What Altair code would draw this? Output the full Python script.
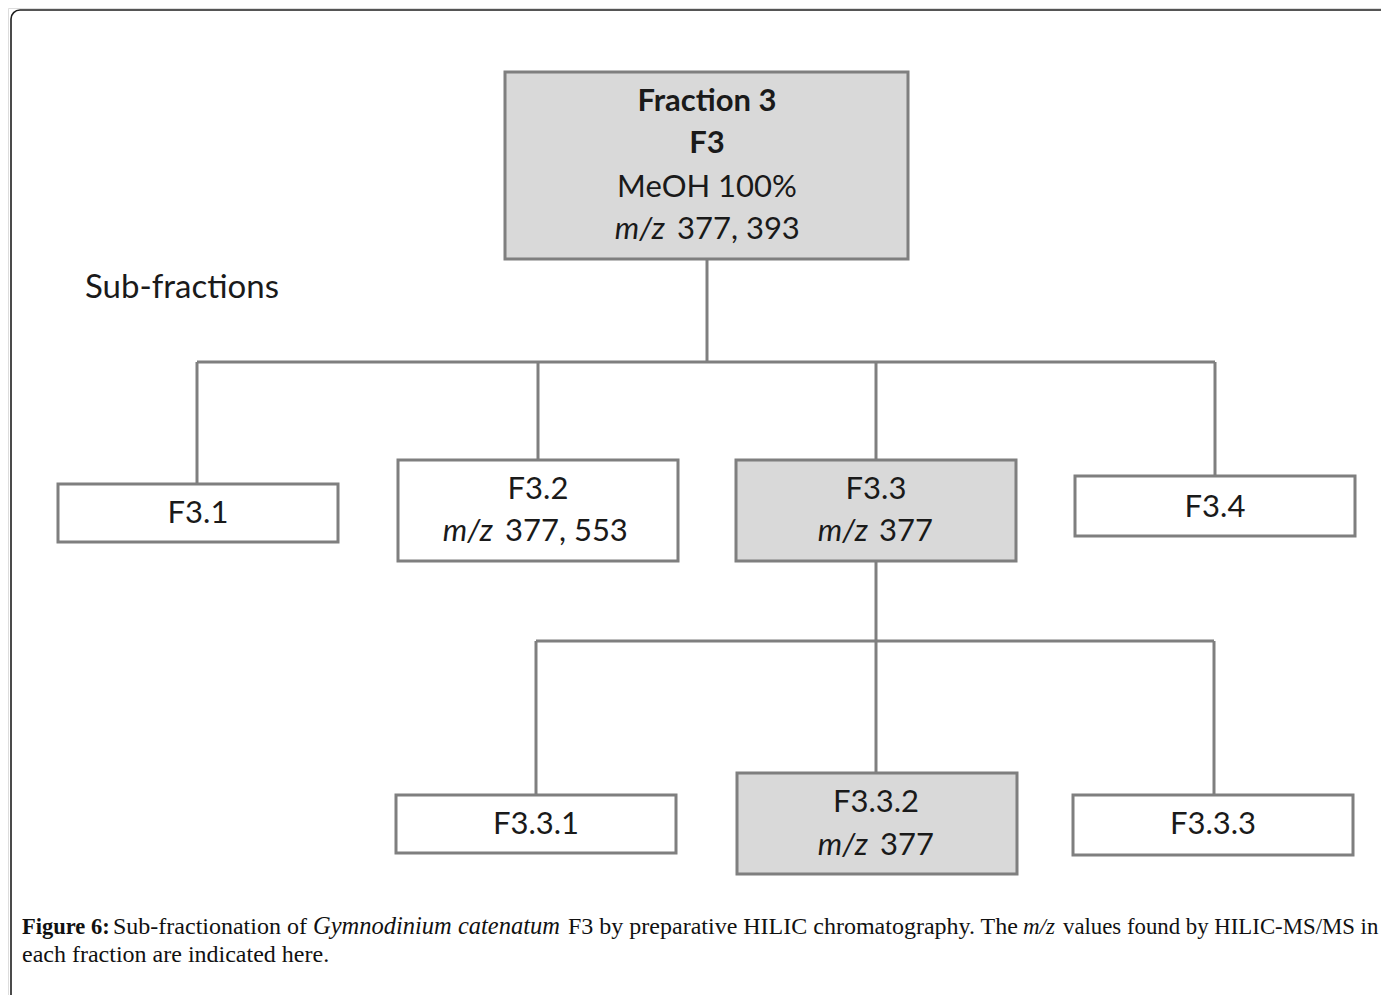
import altair as alt
import pandas as pd

# ---------------- data ----------------
box_names = ["F3", "F3.1", "F3.2", "F3.3", "F3.4", "F3.3.1", "F3.3.2", "F3.3.3"]
box_left = [505, 58, 398, 736, 1075, 396, 737, 1073]
box_right = [908, 338, 678, 1016, 1355, 676, 1017, 1353]
box_top = [72, 484, 460, 460, 476, 795, 773, 795]
box_bottom = [259, 542, 561, 561, 536, 853, 874, 855]
box_shaded = ["yes", "no", "no", "yes", "no", "no", "yes", "no"]

link_x1 = [707, 197, 197, 538, 876, 1215, 876, 536, 536, 876, 1214]
link_x2 = [707, 1215, 197, 538, 876, 1215, 876, 1214, 536, 876, 1214]
link_y1 = [259, 362, 362, 362, 362, 362, 561, 641, 641, 641, 641]
link_y2 = [362, 362, 484, 460, 460, 476, 641, 641, 795, 773, 795]

bold_labels = ["Fraction 3", "F3"]
bold_x = [707, 707]
bold_y = [102, 144]

plain_labels = ["MeOH 100%", "F3.1", "F3.2", "F3.3", "F3.4", "F3.3.1", "F3.3.2", "F3.3.3"]
plain_x = [707, 198, 538, 876, 1215, 536, 876, 1213]
plain_y = [188, 514, 490, 490, 508, 825, 803, 825]

mz_end_x = [665, 493, 868, 868]
mz_y = [230, 532, 532, 846]
mz_values = ["377, 393", "377, 553", "377", "377"]
mz_value_x = [677, 505, 879, 880]

side_label = "Sub-fractions"
side_x = 85
side_y = 288

cap_texts = ["Figure 6:", "Sub-fractionation of", "Gymnodinium catenatum",
             "F3 by preparative HILIC chromatography. The", "m/z",
             "values found by HILIC-MS/MS in", "each fraction are indicated here."]
cap_x = [22, 113, 313, 568, 1023, 1063, 22]
cap_y = [927, 927, 927, 927, 927, 927, 955]
cap_style = ["bold", "normal", "italic", "normal", "italic2", "normal2", "normal"]

# ---------------- scales ----------------
W, H = 1373, 987
xs = alt.Scale(domain=[8, 8 + W], nice=False, zero=False)
ys = alt.Scale(domain=[8, 8 + H], nice=False, zero=False, reverse=True)


def X(f):
    return alt.X(f, type="quantitative", scale=xs, axis=None)


def Y(f):
    return alt.Y(f, type="quantitative", scale=ys, axis=None)


boxes = pd.DataFrame({"name": box_names, "x0": box_left, "x1": box_right,
                      "y0": box_top, "y1": box_bottom, "shaded": box_shaded})
links = pd.DataFrame({"x1": link_x1, "x2": link_x2, "y1": link_y1, "y2": link_y2})
bold_df = pd.DataFrame({"t": bold_labels, "x": bold_x, "y": bold_y})
plain_df = pd.DataFrame({"t": plain_labels, "x": plain_x, "y": plain_y})
mz_df = pd.DataFrame({"t": ["m/z"] * len(mz_end_x), "x": mz_end_x, "y": mz_y})
mzv_df = pd.DataFrame({"t": mz_values, "x": mz_value_x, "y": mz_y})
side_df = pd.DataFrame({"t": [side_label], "x": [side_x], "y": [side_y]})
cap_df = pd.DataFrame({"t": cap_texts, "x": cap_x, "y": cap_y, "s": cap_style})
frame_df = pd.DataFrame({"x0": [11], "x1": [1430], "y0": [10], "y1": [1040]})

BOX_FONT = "Lato"
FS = 31
INK = "#1a1a1a"

frame = alt.Chart(frame_df).mark_rect(
    fill="white", stroke="#1e1e1e", strokeWidth=1.6, cornerRadius=9
).encode(x=X("x0"), x2=alt.X2("x1"), y=Y("y0"), y2=alt.Y2("y1"))

link_layer = alt.Chart(links).mark_rule(color="#7f7f7f", strokeWidth=3).encode(
    x=X("x1"), x2=alt.X2("x2"), y=Y("y1"), y2=alt.Y2("y2"))

box_layer = alt.Chart(boxes).mark_rect(stroke="#7f7f7f", strokeWidth=3).encode(
    x=X("x0"), x2=alt.X2("x1"), y=Y("y0"), y2=alt.Y2("y1"),
    fill=alt.Fill("shaded:N", scale=alt.Scale(domain=["yes", "no"],
                                              range=["#d9d9d9", "#ffffff"]), legend=None))

bold_layer = alt.Chart(bold_df).mark_text(
    font=BOX_FONT, fontSize=FS, fontWeight="bold", color=INK, align="center", baseline="middle"
).encode(x=X("x"), y=Y("y"), text="t:N")

plain_layer = alt.Chart(plain_df).mark_text(
    font=BOX_FONT, fontSize=FS, color=INK, align="center", baseline="middle"
).encode(x=X("x"), y=Y("y"), text="t:N")

mz_layer = alt.Chart(mz_df).mark_text(
    font=BOX_FONT, fontSize=FS, fontStyle="italic", color=INK, align="right", baseline="middle"
).encode(x=X("x"), y=Y("y"), text="t:N")

mzv_layer = alt.Chart(mzv_df).mark_text(
    font=BOX_FONT, fontSize=FS, color=INK, align="left", baseline="middle"
).encode(x=X("x"), y=Y("y"), text="t:N")

side_layer = alt.Chart(side_df).mark_text(
    font=BOX_FONT, fontSize=33, color=INK, align="left", baseline="middle"
).encode(x=X("x"), y=Y("y"), text="t:N")

CAP_FONT = "Liberation Serif"
cap_specs = {
    "bold": dict(fontWeight="bold", fontSize=22.5),
    "normal": dict(fontSize=24),
    "italic": dict(fontStyle="italic", fontSize=24.5),
    "italic2": dict(fontStyle="italic", fontSize=23),
    "normal2": dict(fontSize=22.8),
}
cap_layers = []
for style, kw in cap_specs.items():
    cap_layers.append(
        alt.Chart(cap_df).transform_filter(alt.datum.s == style).mark_text(
            font=CAP_FONT, color="#111111", align="left", baseline="middle", **kw
        ).encode(x=X("x"), y=Y("y"), text="t:N")
    )

chart = alt.layer(
    frame, link_layer, box_layer, bold_layer, plain_layer, mz_layer, mzv_layer, side_layer,
    *cap_layers
).properties(width=W, height=H, padding=0, autosize=alt.AutoSizeParams(type="none")
).configure_view(stroke=None).configure(background="white")

chart.save("out.html", embed_options={"renderer": "svg", "actions": False})
